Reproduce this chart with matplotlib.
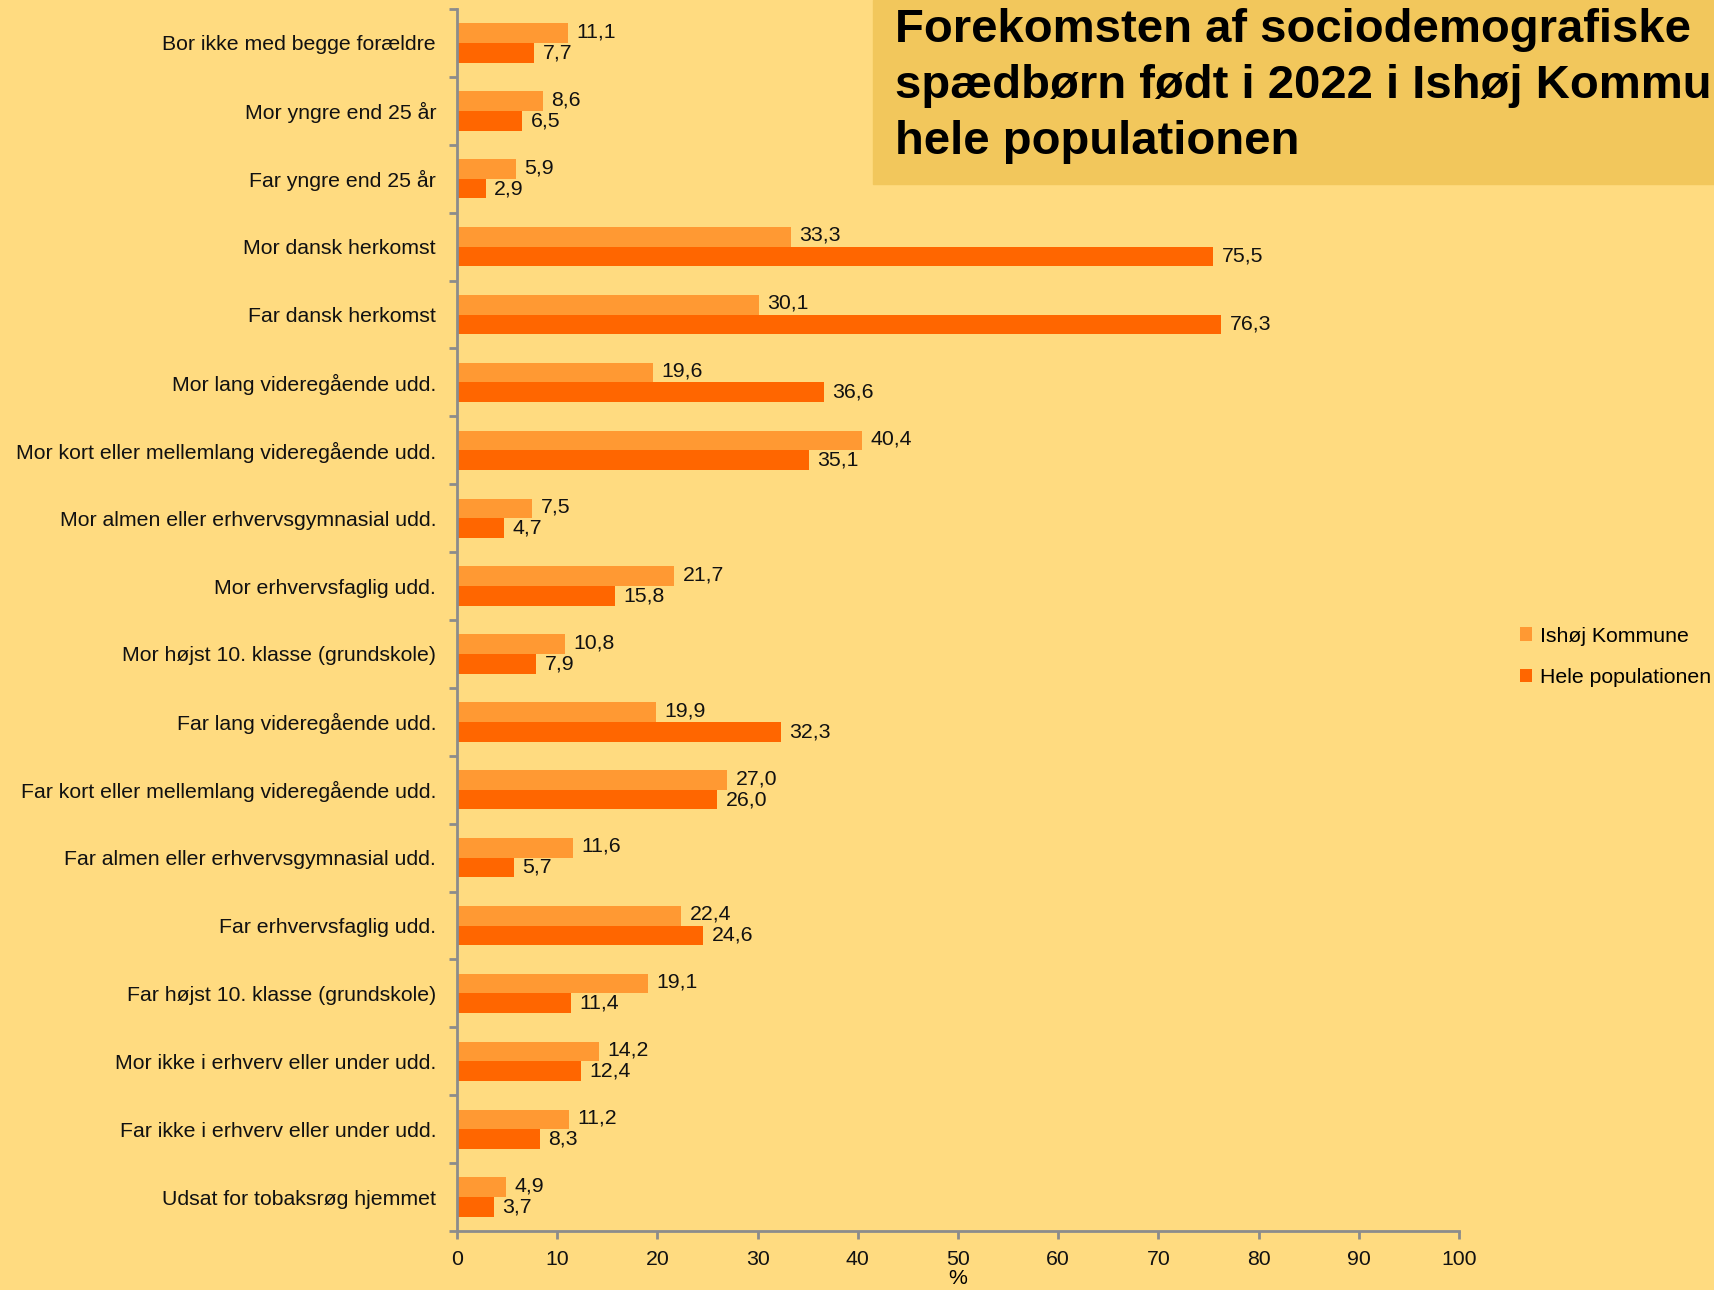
import matplotlib
matplotlib.use("Agg")
import matplotlib.pyplot as plt
import numpy as np

categories = [
    "Bor ikke med begge forældre",
    "Mor yngre end 25 år",
    "Far yngre end 25 år",
    "Mor dansk herkomst",
    "Far dansk herkomst",
    "Mor lang videregående udd.",
    "Mor kort eller mellemlang videregående udd.",
    "Mor almen eller erhvervsgymnasial udd.",
    "Mor erhvervsfaglig udd.",
    "Mor højst 10. klasse (grundskole)",
    "Far lang videregående udd.",
    "Far kort eller mellemlang videregående udd.",
    "Far almen eller erhvervsgymnasial udd.",
    "Far erhvervsfaglig udd.",
    "Far højst 10. klasse (grundskole)",
    "Mor ikke i erhverv eller under udd.",
    "Far ikke i erhverv eller under udd.",
    "Udsat for tobaksrøg hjemmet",
]
ishoj = [11.1, 8.6, 5.9, 33.3, 30.1, 19.6, 40.4, 7.5, 21.7, 10.8, 19.9, 27.0, 11.6, 22.4, 19.1, 14.2, 11.2, 4.9]
hele = [7.7, 6.5, 2.9, 75.5, 76.3, 36.6, 35.1, 4.7, 15.8, 7.9, 32.3, 26.0, 5.7, 24.6, 11.4, 12.4, 8.3, 3.7]
series_names = ["Ishøj Kommune", "Hele populationen"]
x_ticks = [0, 10, 20, 30, 40, 50, 60, 70, 80, 90, 100]
title = "Forekomsten af sociodemografiske  faktorer blandt\nspædbørn født i 2022 i Ishøj Kommune og i\nhele populationen"

BG = "#FFDB80"
C1 = "#FF9933"
C2 = "#FF6600"
GRAY = "#8C8C8C"
FS = 15.3

plt.rcParams['font.family'] = ['Liberation Sans', 'DejaVu Sans']

fig = plt.figure(figsize=(17.14, 12.9), dpi=100, facecolor=BG)
ax = fig.add_axes([0.2666, 0.0457, 0.8512 - 0.2666, 0.993 - 0.0457])
ax.set_facecolor(BG)

n = len(categories)
y = np.arange(n)
h = 0.29
b1 = ax.barh(y - h / 2, ishoj, height=h, color=C1, label=series_names[0])
b2 = ax.barh(y + h / 2, hele, height=h, color=C2, label=series_names[1])

fmt = lambda v: f"{v:.1f}".replace(".", ",")
for yi, v in zip(y, ishoj):
    ax.annotate(fmt(v), (v, yi - h / 2), xytext=(6, 1), textcoords="offset points",
                va="center", ha="left", fontsize=FS, color="#111111")
for yi, v in zip(y, hele):
    ax.annotate(fmt(v), (v, yi + h / 2), xytext=(6, 0), textcoords="offset points",
                va="center", ha="left", fontsize=FS, color="#111111")

ax.set_ylim(n - 0.5, -0.5)
ax.set_xlim(0, 100)
ax.set_yticks(y)
ax.set_yticklabels(categories, fontsize=FS, color="#111111")
ax.set_yticks(np.arange(-0.5, n, 1), minor=True)
ax.tick_params(axis="y", which="major", length=0, pad=15)
ax.tick_params(axis="y", which="minor", length=6, width=2, color=GRAY)
ax.set_xticks(x_ticks)
ax.set_xticklabels([str(t) for t in x_ticks], fontsize=FS, color="#111111")
ax.tick_params(axis="x", length=6, width=2, color=GRAY, pad=8)
ax.set_xlabel("%", fontsize=FS, labelpad=0)

for s in ["top", "right"]:
    ax.spines[s].set_visible(False)
for s in ["left", "bottom"]:
    ax.spines[s].set_color(GRAY)
    ax.spines[s].set_linewidth(2)

leg = fig.legend(handles=[b1, b2], labels=series_names, loc="upper left",
                 bbox_to_anchor=(0.8755, 0.529), frameon=False, fontsize=FS,
                 handlelength=0.6, handleheight=0.6, handletextpad=0.35, labelspacing=1.05)

# Title box
fig.patches.append(plt.Rectangle((873 / 1714, 1 - 184 / 1290), 1, 184 / 1290,
                                 transform=fig.transFigure, color="#F2C75C", zorder=0))
fig.text(895 / 1714, 1 - 8 / 1290, title, ha="left", va="top", fontsize=34,
         fontweight="bold", color="black", linespacing=1.36)

fig.savefig("out.png", dpi=100, facecolor=BG)
